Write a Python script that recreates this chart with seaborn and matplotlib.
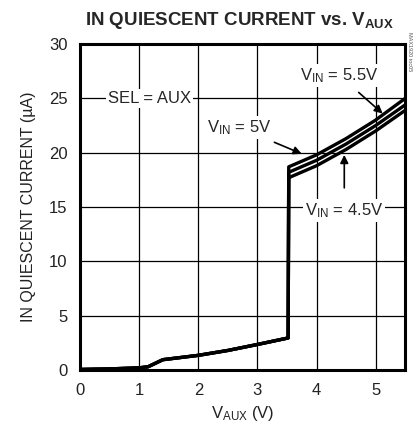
import pandas as pd
import matplotlib
matplotlib.use("Agg")
import matplotlib.pyplot as plt
import seaborn as sns

# ------------------------------------------------------------
# Data (IN quiescent current vs VAUX)
# ------------------------------------------------------------
vaux = [0.0, 0.5, 1.0, 1.15, 1.4, 2.0, 2.5, 3.0, 3.52, 3.53, 4.0, 4.5, 5.0, 5.5]
i_vin_45 = [0.05, 0.1, 0.2, 0.3, 0.95, 1.35, 1.8, 2.35, 2.95, 17.7, 18.8, 20.3, 22.0, 23.9]
i_vin_50 = [0.05, 0.1, 0.2, 0.3, 0.95, 1.35, 1.8, 2.35, 2.95, 18.2, 19.3, 20.8, 22.5, 24.4]
i_vin_55 = [0.05, 0.1, 0.2, 0.3, 0.95, 1.35, 1.8, 2.35, 2.95, 18.7, 19.8, 21.3, 23.0, 25.0]
vin_labels = ["4.5V", "5V", "5.5V"]

x_ticks = [0, 1, 2, 3, 4, 5]
y_ticks = [0, 5, 10, 15, 20, 25, 30]

df = pd.concat(
    [
        pd.DataFrame({"vaux": vaux, "current": vals, "vin": lab})
        for vals, lab in zip([i_vin_45, i_vin_50, i_vin_55], vin_labels)
    ],
    ignore_index=True,
)

sns.set_style("white")
plt.rcParams["font.family"] = ["Liberation Sans Narrow", "Liberation Sans", "DejaVu Sans"]
plt.rcParams["mathtext.fontset"] = "custom"
plt.rcParams["mathtext.rm"] = "Liberation Sans"
plt.rcParams["mathtext.bf"] = "Liberation Sans:bold"

fig = plt.figure(figsize=(4.13, 4.32), dpi=100)
ax = fig.add_axes([0.194, 0.1435, 0.787, 0.7545])

sns.lineplot(
    data=df, x="vaux", y="current", hue="vin",
    palette=["black"] * 3, sort=False, estimator=None,
    linewidth=2.4, legend=False, ax=ax, zorder=3,
)

ax.set_xlim(0, 5.5)
ax.set_ylim(0, 30)
ax.set_xticks(x_ticks)
ax.set_yticks(y_ticks)
ax.tick_params(length=0, labelsize=12, pad=9, colors="#222222")
ax.grid(True, color="black", linewidth=0.9)
for sp in ax.spines.values():
    sp.set_linewidth(2.2)
    sp.set_color("black")

ax.set_xlabel(r"V$\mathregular{_{AUX}}$ (V)", fontsize=12, color="#222222", labelpad=5)
ax.set_ylabel("IN QUIESCENT CURRENT (µA)", fontsize=11.5, color="#222222", labelpad=9)
fig.text(0.58, 0.953, r"IN QUIESCENT CURRENT vs. V$\mathbf{_{AUX}}$",
         ha="center", va="center", fontsize=13.5, fontweight="bold")

box = dict(facecolor="white", edgecolor="none", pad=1.5)
ax.text(1.18, 25, "SEL = AUX", ha="center", va="center", fontsize=12, bbox=box, zorder=4)
ax.annotate(r"V$\mathregular{_{IN}}$ = 5.5V", xy=(5.12, 23.6), xytext=(4.39, 27.1),
            ha="center", va="center", fontsize=12, bbox=box, zorder=5,
            arrowprops=dict(arrowstyle="-|>", color="black", lw=1.2, shrinkA=6, shrinkB=0))
ax.annotate(r"V$\mathregular{_{IN}}$ = 5V", xy=(3.75, 19.9), xytext=(2.7, 22.3),
            ha="center", va="center", fontsize=12, bbox=box, zorder=5,
            arrowprops=dict(arrowstyle="-|>", color="black", lw=1.2, shrinkA=6, shrinkB=0))
ax.annotate(r"V$\mathregular{_{IN}}$ = 4.5V", xy=(4.47, 19.8), xytext=(4.47, 14.7),
            ha="center", va="center", fontsize=12, bbox=box, zorder=5,
            arrowprops=dict(arrowstyle="-|>", color="black", lw=1.2, shrinkA=8, shrinkB=0))

fig.text(0.992, 0.88, "MAX1920 toc05", rotation=270, ha="center", va="center",
         fontsize=4, color="#555555")

fig.savefig("out.png", dpi=100)
plt.close(fig)
